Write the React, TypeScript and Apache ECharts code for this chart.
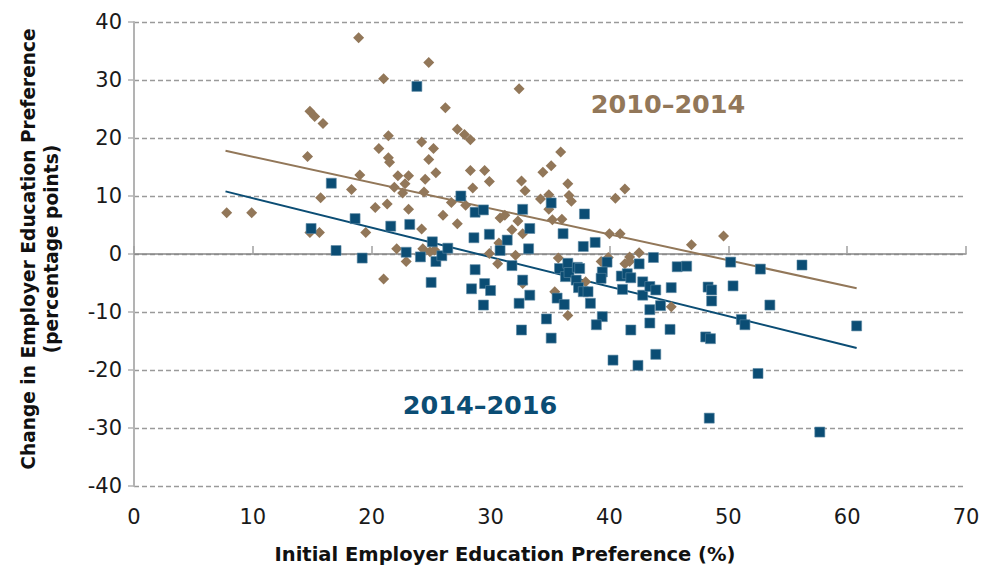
import React, { useEffect, useRef } from "react";
import * as echarts from "echarts";

const X_MIN = 0;
const X_MAX = 70;
const X_STEP = 10;
const Y_MIN = -40;
const Y_MAX = 40;
const Y_STEP = 10;

const seriesNames = ["2010–2014", "2014–2016"];

const points2010_2014: [number, number][] = [
  [7.8, 7.1], [9.9, 7.1], [14.6, 16.8], [14.8, 24.6], [15.2, 23.7], [15.9, 22.5],
  [15.7, 9.7], [14.8, 3.7], [15.6, 3.7], [18.3, 11.1], [19.0, 13.6], [19.5, 3.7],
  [18.9, 37.3], [20.3, 8.0], [20.6, 18.2], [21.0, 30.2], [21.4, 20.4], [21.4, 16.6],
  [21.5, 15.8], [21.3, 8.6], [21.9, 11.5], [22.2, 13.5], [22.8, 12.1], [22.6, 10.5],
  [23.1, 13.5], [23.1, 7.7], [22.1, 0.9], [22.9, -1.3], [21.0, -4.3], [24.2, 19.3],
  [24.8, 16.3], [24.8, 33.0], [25.2, 18.2], [25.4, 14.0], [24.5, 12.9], [24.4, 10.7],
  [24.2, 4.3], [24.3, 0.9], [24.9, 0.4], [25.3, 0.7], [26.2, 25.2], [26.0, 6.7],
  [26.7, 8.9], [27.2, 21.5], [27.8, 20.6], [28.3, 19.7], [28.3, 14.4], [28.5, 11.4],
  [27.9, 8.4], [27.2, 5.2], [29.5, 14.4], [29.9, 12.5], [29.9, 0.1], [30.6, -1.7],
  [30.7, 1.9], [30.8, 6.2], [31.2, 6.7], [31.8, 4.2], [32.3, 5.7], [32.1, -0.2],
  [32.4, 28.5], [32.6, 12.6], [32.9, 10.9], [32.7, 3.5], [32.7, -5.1], [34.4, 14.1],
  [35.1, 15.2], [34.2, 9.5], [34.9, 10.2], [34.9, 7.7], [35.2, 5.9], [36.0, 6.0],
  [35.9, 17.6], [36.5, 12.1], [36.6, 10.1], [36.8, 9.1], [35.7, -0.7], [35.4, -6.5],
  [36.5, -10.6], [38.0, -4.8], [39.3, -1.3], [39.9, -0.6], [40.0, 3.5], [40.9, 3.5],
  [40.5, 9.6], [41.3, 11.2], [41.7, -0.5], [42.5, 0.2], [41.3, -1.7], [41.7, -1.3],
  [45.2, -9.1], [46.9, 1.6], [49.6, 3.1],
];

const points2014_2016: [number, number][] = [
  [14.9, 4.4], [16.6, 12.2], [17.0, 0.6], [18.6, 6.1], [19.2, -0.7], [21.6, 4.8],
  [22.9, 0.3], [23.2, 5.1], [23.8, 28.9], [24.1, -0.5], [25.1, 2.1], [25.4, -1.3],
  [25.9, -0.3], [25.0, -4.9], [26.4, 1.0], [27.5, 10.0], [28.7, 7.2], [29.4, 7.6],
  [28.6, 2.8], [28.7, -2.7], [28.4, -6.0], [29.5, -5.1], [30.0, -6.3], [29.4, -8.8],
  [29.9, 3.4], [31.4, 2.4], [30.8, 0.6], [31.8, -2.0], [32.7, 7.7], [33.3, 4.4],
  [33.2, 0.9], [32.7, -4.5], [33.3, -7.1], [32.4, -8.5], [32.6, -13.1], [34.7, -11.2],
  [35.1, -14.5], [35.1, 8.8], [36.1, 3.5], [35.8, -2.5], [36.5, -1.6], [36.3, -3.9],
  [36.6, -3.2], [37.3, -2.3], [37.5, -2.5], [37.2, -4.5], [37.4, -5.8], [37.8, -6.5],
  [38.2, -6.5], [35.6, -7.6], [36.2, -8.7], [37.9, 6.9], [37.8, 1.3], [38.8, 2.0],
  [38.4, -8.5], [39.4, -10.8], [38.9, -12.2], [39.8, -1.4], [39.4, -3.1], [39.3, -4.2],
  [40.3, -18.3], [41.0, -3.8], [41.5, -3.4], [41.8, -4.1], [41.1, -6.1], [42.8, -4.8],
  [42.8, -7.1], [43.4, -5.6], [43.9, -6.2], [42.5, -1.7], [43.7, -0.6], [44.3, -8.9],
  [43.4, -9.6], [43.4, -11.9], [41.8, -13.1], [45.1, -13.0], [43.9, -17.3], [42.4, -19.2],
  [45.2, -5.8], [45.7, -2.2], [46.5, -2.1], [48.3, -5.7], [48.6, -6.2], [48.6, -8.1],
  [48.1, -14.3], [48.5, -14.6], [48.4, -28.3], [50.2, -1.4], [50.4, -5.5], [52.7, -2.6],
  [51.1, -11.3], [51.4, -12.2], [53.5, -8.8], [52.5, -20.6], [56.2, -1.9], [57.7, -30.7],
  [60.8, -12.4],
];

const trend2010_2014: [number, number][] = [[7.7, 17.8], [60.8, -5.9]];
const trend2014_2016: [number, number][] = [[7.7, 10.8], [60.8, -16.2]];

const xAxisTitle = "Initial Employer Education Preference (%)";
const yAxisTitleLines = ["Change in Employer Education Preference", "(percentage points)"];

const BROWN = "#927759";
const BLUE = "#0B4D74";
const FONT = "'DejaVu Sans', Verdana, sans-serif";

export default function App() {
  const ref = useRef<HTMLDivElement>(null);

  useEffect(() => {
    if (!ref.current) return;
    const chart = echarts.init(ref.current, undefined, { renderer: "svg" });
    chart.setOption({
      animation: false,
      textStyle: { fontFamily: FONT },
      grid: { left: 134, right: 34, top: 22, bottom: 87, containLabel: false },
      xAxis: [
        {
          type: "value",
          min: X_MIN,
          max: X_MAX,
          interval: X_STEP,
          position: "bottom",
          axisLine: { show: false, onZero: false },
          axisTick: { show: false },
          splitLine: { show: false },
          axisLabel: { fontSize: 21, color: "#1a1a1a", margin: 20, fontFamily: FONT },
        },
        {
          type: "value",
          min: X_MIN,
          max: X_MAX,
          interval: X_STEP,
          position: "top",
          axisLine: { show: true, onZero: true, lineStyle: { color: "#868686", width: 1.5 } },
          axisTick: { show: true, inside: false, length: 8, lineStyle: { color: "#a0a0a0", width: 1.5 } },
          axisLabel: { show: false },
          splitLine: { show: false },
        },
      ],
      yAxis: {
        type: "value",
        min: Y_MIN,
        max: Y_MAX,
        interval: Y_STEP,
        axisLine: { show: true, onZero: false, lineStyle: { color: "#b3b3b3", width: 2 } },
        axisTick: { show: true, length: 6, lineStyle: { color: "#b3b3b3", width: 1.5 } },
        axisLabel: { fontSize: 21, color: "#1a1a1a", margin: 12, fontFamily: FONT },
        splitLine: { show: true, lineStyle: { color: "#9a9a9a", width: 1.3, type: [5, 3] } },
      },
      series: [
        {
          name: seriesNames[0] + " trend",
          type: "line",
          data: trend2010_2014,
          symbol: "none",
          lineStyle: { color: BROWN, width: 2 },
          silent: true,
          z: 2,
        },
        {
          name: seriesNames[1] + " trend",
          type: "line",
          data: trend2014_2016,
          symbol: "none",
          lineStyle: { color: BLUE, width: 2 },
          silent: true,
          z: 2,
        },
        {
          name: seriesNames[0],
          type: "scatter",
          data: points2010_2014,
          symbol: "diamond",
          symbolSize: 11,
          itemStyle: { color: BROWN, opacity: 1 },
          z: 3,
        },
        {
          name: seriesNames[1],
          type: "scatter",
          data: points2014_2016,
          symbol: "rect",
          symbolSize: 10,
          itemStyle: { color: BLUE, opacity: 1, borderColor: "#5d88a3", borderWidth: 0.6 },
          z: 4,
        },
      ],
      graphic: [
        {
          type: "text",
          x: 668,
          y: 104,
          style: {
            text: seriesNames[0],
            fill: BROWN,
            font: `bold 25.5px ${FONT}`,
            textAlign: "center",
            textVerticalAlign: "middle",
          },
        },
        {
          type: "text",
          x: 480,
          y: 405,
          style: {
            text: seriesNames[1],
            fill: BLUE,
            font: `bold 25.5px ${FONT}`,
            textAlign: "center",
            textVerticalAlign: "middle",
          },
        },
        {
          type: "text",
          x: 505,
          y: 554,
          style: {
            text: xAxisTitle,
            fill: "#111",
            font: `bold 19.5px ${FONT}`,
            textAlign: "center",
            textVerticalAlign: "middle",
          },
        },
        {
          type: "text",
          x: 28,
          y: 249,
          rotation: Math.PI / 2,
          style: {
            text: yAxisTitleLines[0],
            fill: "#111",
            font: `bold 18.6px ${FONT}`,
            textAlign: "center",
            textVerticalAlign: "middle",
          },
        },
        {
          type: "text",
          x: 51,
          y: 249,
          rotation: Math.PI / 2,
          style: {
            text: yAxisTitleLines[1],
            fill: "#111",
            font: `bold 18.6px ${FONT}`,
            textAlign: "center",
            textVerticalAlign: "middle",
          },
        },
      ],
    });
    return () => chart.dispose();
  }, []);

  return (
    <div
      ref={ref}
      style={{ position: "absolute", left: 0, top: 0, width: 1000, height: 573, background: "#fff" }}
    />
  );
}
